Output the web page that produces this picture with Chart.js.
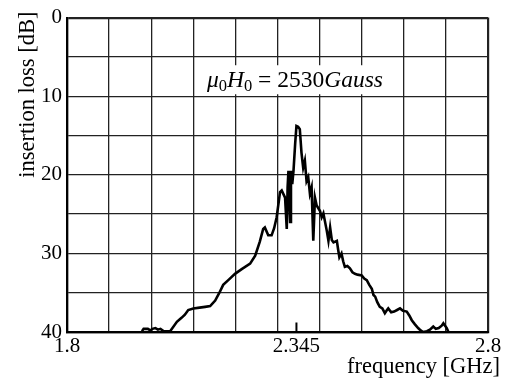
<!DOCTYPE html>
<html><head><meta charset="utf-8">
<script src="https://cdn.jsdelivr.net/npm/chart.js@4"></script>
<style>html,body{margin:0;padding:0;background:#fff}#wrap{width:511px;height:384px;position:relative}</style>
</head><body><div id="wrap"><canvas id="c"></canvas></div>
<script>
// ---- data ----
const frequency = [
 1.978,1.982,1.992,1.998,2.003,2.010,2.016,2.022,2.030,2.045,
 2.061,2.072,2.080,2.088,2.100,2.115,2.128,2.140,2.152,2.162,
 2.171,2.185,2.199,2.215,2.235,2.247,2.258,2.266,2.270,2.278,
 2.286,2.292,2.298,2.306,2.310,2.318,2.322,2.324,2.326,2.330,
 2.332,2.335,2.338,2.342,2.345,2.349,2.353,2.357,2.361,2.365,
 2.369,2.373,2.377,2.381,2.385,2.389,2.393,2.401,2.405,2.409,
 2.417,2.421,2.425,2.429,2.433,2.441,2.444,2.447,2.452,2.456,
 2.460,2.466,2.472,2.478,2.484,2.490,2.500,2.506,2.512,2.518,
 2.524,2.528,2.532,2.537,2.543,2.549,2.555,2.560,2.563,2.570,
 2.577,2.584,2.591,2.598,2.607,2.613,2.619,2.626,2.634,2.640,
 2.646,2.655,2.662,2.670,2.676,2.683,2.690,2.694,2.698,2.702,2.706
];
const insertionLoss = [
 39.9,39.6,39.6,39.8,39.6,39.5,39.7,39.6,39.9,39.9,
 38.7,38.2,37.8,37.2,37.0,36.9,36.8,36.7,36.0,35.0,
 34.0,33.3,32.6,32.0,31.3,30.3,28.5,26.9,26.7,27.7,
 27.7,26.8,25.4,22.2,22.0,22.9,26.9,21.6,19.5,26.0,
 19.5,21.2,19.5,16.0,13.8,13.9,14.2,17.2,19.1,18.2,
 20.8,20.3,22.4,21.6,28.4,22.9,23.9,24.6,25.4,24.9,
 27.1,28.4,26.7,28.3,28.6,28.4,29.5,30.5,30.0,31.0,
 31.7,31.6,31.9,32.4,32.6,32.7,32.8,33.2,33.4,34.0,
 34.5,35.3,35.5,36.2,36.8,37.0,37.6,37.2,37.0,37.5,
 37.4,37.2,37.0,37.3,37.4,37.9,38.5,39.0,39.5,39.8,
 40.0,39.9,39.7,39.3,39.6,39.5,39.2,38.9,39.2,39.5,40.0
];
const xGridValues = [1.8,1.9,2.0,2.1,2.2,2.3,2.345,2.4,2.5,2.6,2.7,2.8];
const xLabelValues = [1.8,2.345,2.8];
const yLabelValues = [0,10,20,30,40];
const markerFreq = [2.345,2.345];
const markerLoss = [38.8,40];
const xTitle = 'frequency [GHz]';
const yTitle = 'insertion loss [dB]';
const annotationAnchor = {x:2.1325, y:8.86};
const annotationParts = [
 {t:'\u03BC', it:true},{t:'0', sub:true},{t:'H', it:true},{t:'0', sub:true},
 {t:' = 2530', it:false},{t:'Gauss', it:true}
];

const FONT_FAMILY = '"Liberation Serif", "DejaVu Serif", serif';
const FONT = {family: FONT_FAMILY, size: 21};
const TITLE_PX = 22.5;
const near = (a,b)=>Math.abs(a-b)<1e-6;

const textPlugin = {
  id:'texts',
  afterDatasetsDraw(chart){
    const ctx = chart.ctx, xs = chart.scales.x, ys = chart.scales.y;
    ctx.save();
    // annotation with white box
    const x0 = xs.getPixelForValue(annotationAnchor.x);
    const base = ys.getPixelForValue(annotationAnchor.y);
    ctx.textBaseline = 'alphabetic';
    ctx.textAlign = 'left';
    const segs = annotationParts.map(p=>{
      const size = p.sub ? 16.5 : 23.5;
      const f = (p.it ? 'italic ' : '') + size + 'px ' + FONT_FAMILY;
      ctx.font = f;
      return {p, f, w: ctx.measureText(p.t).width};
    });
    const total = segs.reduce((s,g)=>s+g.w,0);
    ctx.fillStyle = '#fff';
    ctx.fillRect(x0-4, base-22, total+8, 29);
    ctx.fillStyle = '#000';
    let x = x0;
    segs.forEach(g=>{
      ctx.font = g.f;
      ctx.fillText(g.p.t, x, base + (g.p.sub ? 4 : 0));
      x += g.w;
    });
    // axis titles
    ctx.font = TITLE_PX + 'px ' + FONT_FAMILY;
    ctx.textAlign = 'right';
    ctx.textBaseline = 'alphabetic';
    ctx.fillText(xTitle, xs.right + 12, chart.height - 11);
    ctx.translate(34, ys.top - 6);
    ctx.rotate(-Math.PI/2);
    ctx.fillText(yTitle, 0, 0);
    ctx.restore();
  }
};

new Chart(document.getElementById('c'), {
  type:'scatter',
  data:{
    datasets:[
      {data: frequency.map((f,i)=>({x:f, y:insertionLoss[i]})), showLine:true,
       borderColor:'#000', borderWidth:2.6, pointRadius:0, tension:0},
      {data: markerFreq.map((f,i)=>({x:f, y:markerLoss[i]})), showLine:true,
       borderColor:'#000', borderWidth:2, pointRadius:0}
    ]
  },
  options:{
    responsive:true, maintainAspectRatio:false, animation:false, devicePixelRatio:1,
    layout:{padding:{left:0,right:23,top:16,bottom:0}},
    plugins:{legend:{display:false}, tooltip:{enabled:false}},
    scales:{
      x:{
        type:'linear', min:1.8, max:2.8,
        afterBuildTicks:s=>{ s.ticks = xGridValues.map(v=>({value:v})); },
        afterFit:s=>{ s.height = 52; },
        ticks:{autoSkip:false, maxRotation:0, minRotation:0, padding:2, color:'#000', font:FONT,
          callback:v=>{ const m = xLabelValues.find(l=>near(l,v)); return m===undefined?'':String(m); }},
        grid:{drawTicks:false,
          color:c=> (c.tick && near(c.tick.value,2.345)) ? 'rgba(0,0,0,0)' : '#222',
          lineWidth:c=> (c.tick && (near(c.tick.value,1.8)||near(c.tick.value,2.8))) ? 2.2 : 1.3},
        border:{display:true, color:'#000', width:2.2},
        title:{display:false}
      },
      y:{
        type:'linear', reverse:true, min:0, max:40,
        afterFit:s=>{ s.width = 67; },
        ticks:{stepSize:5, padding:5, color:'#000', font:FONT,
          callback:v=> yLabelValues.some(l=>near(l,v)) ? String(v) : ''},
        grid:{drawTicks:false, color:'#222',
          lineWidth:c=> (c.tick && (near(c.tick.value,0)||near(c.tick.value,40))) ? 2.2 : 1.3},
        border:{display:true, color:'#000', width:2.2},
        title:{display:false}
      }
    }
  },
  plugins:[textPlugin]
});
</script>
</body></html>
